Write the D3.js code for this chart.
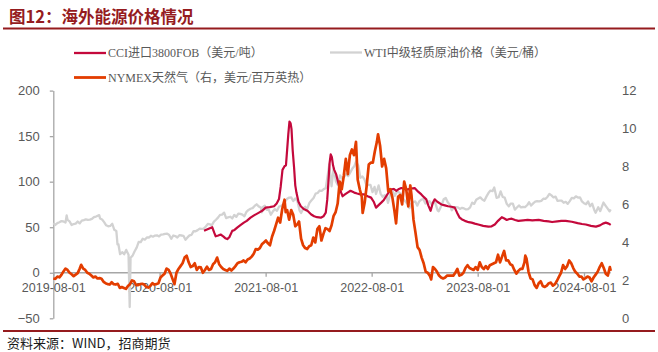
<!DOCTYPE html>
<html><head><meta charset="utf-8">
<script src="https://cdn.jsdelivr.net/npm/d3@7"></script>
<style>body{margin:0;background:#fff}svg{display:block}</style>
</head><body>
<svg id="chart" width="658" height="352"></svg>
<script>
// ---------- data ----------
const titleText = "图12：海外能源价格情况";
const sourceText = "资料来源：WIND，招商期货";
const seriesNames = ["CCI进口3800FOB（美元/吨）", "WTI中级轻质原油价格（美元/桶）", "NYMEX天然气（右，美元/百万英热）"];
const xTickLabels = ["2019-08-01","2020-08-01","2021-08-01","2022-08-01","2023-08-01","2024-08-01"];
const leftTicks = [-50, 0, 50, 100, 150, 200];
const rightTicks = [0, 2, 4, 6, 8, 10, 12];

const cciSeries = [
["2021-01-01",46],["2021-01-15",48],["2021-01-29",50],["2021-02-05",44],["2021-02-10",40],["2021-02-19",41],["2021-02-27",42],
["2021-03-08",40],["2021-03-15",38],["2021-03-22",37],["2021-03-29",39],["2021-04-08",46],["2021-04-16",47],["2021-04-25",49.5],
["2021-05-05",52],["2021-05-18",55],["2021-05-28",57],["2021-06-10",60.5],["2021-06-22",63],["2021-07-09",66],["2021-07-20",68],
["2021-08-01",71.5],["2021-08-15",72],["2021-08-30",73],["2021-09-08",76],["2021-09-16",81],["2021-09-22",95],["2021-09-28",113],
["2021-10-05",117],["2021-10-10",118],["2021-10-14",135],["2021-10-18",152],["2021-10-22",166],["2021-10-26",164],["2021-10-29",158],
["2021-11-02",135],["2021-11-07",115],["2021-11-11",96],["2021-11-15",88],["2021-11-22",78],["2021-11-30",73],["2021-12-10",70],
["2021-12-23",68],["2022-01-05",64],["2022-01-15",62],["2022-01-25",61],["2022-02-07",60.5],["2022-02-16",62],["2022-02-24",66],
["2022-03-01",80],["2022-03-05",99],["2022-03-09",120],["2022-03-13",130],["2022-03-17",127],["2022-03-21",118],["2022-03-25",113],
["2022-04-01",108],["2022-04-11",95],["2022-04-18",88],["2022-04-23",84],["2022-05-01",86],["2022-05-10",88],["2022-05-20",90],
["2022-06-02",88],["2022-06-12",87],["2022-06-23",86],["2022-07-07",86],["2022-07-18",84],["2022-07-30",82.5],["2022-08-08",78],
["2022-08-16",71.5],["2022-08-24",74],["2022-09-03",77],["2022-09-12",80],["2022-09-20",84],["2022-09-30",89],["2022-10-08",91.5],
["2022-10-16",92],["2022-10-25",90],["2022-11-03",92],["2022-11-11",93],["2022-11-22",92],["2022-12-04",91.5],["2022-12-15",92.5],
["2022-12-27",93],["2023-01-08",89],["2023-01-19",86],["2023-01-28",83],["2023-02-05",80.6],["2023-02-12",74],["2023-02-20",68],
["2023-02-27",76],["2023-03-06",80.6],["2023-03-15",78],["2023-03-29",75],["2023-04-10",74],["2023-04-21",73],["2023-05-03",72.5],
["2023-05-14",71.5],["2023-05-22",66],["2023-05-31",60.5],["2023-06-08",58.5],["2023-06-18",57],["2023-07-01",55.5],["2023-07-11",55],
["2023-07-22",54],["2023-08-03",53],["2023-08-20",51.5],["2023-09-07",50.6],["2023-09-18",51],["2023-09-29",53],["2023-10-10",57],
["2023-10-23",61],["2023-11-01",59.5],["2023-11-09",58],["2023-11-18",59],["2023-11-26",59.4],["2023-12-08",58],["2023-12-19",57],
["2024-01-05",57.5],["2024-01-20",58],["2024-02-05",57.5],["2024-02-27",58],["2024-03-15",57],["2024-04-01",56.5],["2024-04-13",55.7],
["2024-05-01",56.5],["2024-05-15",57],["2024-05-30",57],["2024-06-20",56],["2024-07-10",54.5],["2024-07-25",53.5],["2024-08-07",53],
["2024-08-25",51.5],["2024-09-11",50.6],["2024-09-25",52],["2024-10-05",54],["2024-10-15",55],["2024-10-25",54],["2024-11-01",52.5]
];

const wtiSeries = [
["2019-08-01",54.5],["2019-08-08",52.5],["2019-08-15",54.5],["2019-08-22",55.4],["2019-08-29",56.7],["2019-09-05",56.3],["2019-09-12",55.1],
["2019-09-16",62.9],["2019-09-19",58.1],["2019-09-26",56.4],["2019-10-03",52.4],["2019-10-10",53.5],["2019-10-17",53.9],["2019-10-24",56.2],
["2019-10-31",54.2],["2019-11-07",57.2],["2019-11-14",57.8],["2019-11-21",58.6],["2019-11-28",58.1],["2019-12-05",58.4],["2019-12-12",59.2],
["2019-12-19",61.2],["2019-12-26",61.7],["2020-01-06",63.3],["2020-01-09",59.6],["2020-01-16",58.5],["2020-01-23",55.6],["2020-01-30",52.1],
["2020-02-06",51.0],["2020-02-13",51.4],["2020-02-20",53.8],["2020-02-27",47.1],["2020-03-05",45.9],["2020-03-09",31.1],["2020-03-12",31.5],
["2020-03-18",20.4],["2020-03-26",22.6],["2020-04-01",20.3],["2020-04-08",25.1],["2020-04-16",19.9],["2020-04-20",-37.6],["2020-04-23",16.5],
["2020-04-30",18.8],["2020-05-07",23.6],["2020-05-14",27.6],["2020-05-21",33.9],["2020-05-28",33.7],["2020-06-04",37.4],["2020-06-11",36.3],
["2020-06-18",38.8],["2020-06-25",38.7],["2020-07-02",40.6],["2020-07-09",39.6],["2020-07-16",40.8],["2020-07-23",41.1],["2020-07-30",39.9],
["2020-08-06",41.9],["2020-08-13",42.2],["2020-08-20",42.8],["2020-08-27",43.0],["2020-09-03",41.4],["2020-09-10",37.3],["2020-09-17",40.9],
["2020-09-24",40.3],["2020-10-01",38.7],["2020-10-08",41.2],["2020-10-15",40.9],["2020-10-22",40.6],["2020-10-29",36.2],["2020-11-05",38.8],
["2020-11-12",41.1],["2020-11-19",41.7],["2020-11-26",45.7],["2020-12-03",45.6],["2020-12-10",46.8],["2020-12-17",48.4],["2020-12-24",48.2],
["2020-12-31",48.5],["2021-01-07",50.8],["2021-01-14",53.6],["2021-01-21",53.1],["2021-01-28",52.3],["2021-02-04",56.2],["2021-02-11",58.2],
["2021-02-18",60.5],["2021-02-25",63.5],["2021-03-04",63.8],["2021-03-11",66.0],["2021-03-18",60.0],["2021-03-25",60.9],["2021-04-01",61.5],
["2021-04-08",59.6],["2021-04-15",63.5],["2021-04-22",61.4],["2021-04-29",65.0],["2021-05-06",64.7],["2021-05-13",63.8],["2021-05-20",62.0],
["2021-05-27",66.9],["2021-06-03",69.0],["2021-06-10",70.3],["2021-06-17",71.0],["2021-06-24",73.3],["2021-07-01",75.2],["2021-07-08",72.9],
["2021-07-15",71.7],["2021-07-19",66.4],["2021-07-22",71.9],["2021-07-29",73.6],["2021-08-05",69.1],["2021-08-12",69.1],["2021-08-19",63.7],
["2021-08-26",67.4],["2021-09-02",69.9],["2021-09-09",68.1],["2021-09-16",72.6],["2021-09-23",73.3],["2021-09-30",75.0],["2021-10-07",78.3],
["2021-10-14",81.3],["2021-10-21",82.5],["2021-10-28",82.8],["2021-11-04",78.8],["2021-11-11",81.6],["2021-11-18",79.0],["2021-11-26",68.2],
["2021-12-01",65.6],["2021-12-09",70.9],["2021-12-16",72.4],["2021-12-20",68.2],["2021-12-30",76.9],["2022-01-06",79.5],["2022-01-13",82.1],
["2022-01-20",86.9],["2022-01-27",87.6],["2022-02-03",90.3],["2022-02-10",89.9],["2022-02-17",91.8],["2022-02-24",92.8],["2022-03-03",107.7],
["2022-03-08",119.0],["2022-03-16",95.0],["2022-03-23",114.9],["2022-03-31",100.3],["2022-04-07",96.0],["2022-04-14",106.9],["2022-04-21",103.8],
["2022-04-28",105.4],["2022-05-05",108.3],["2022-05-12",106.1],["2022-05-19",109.9],["2022-05-26",114.1],["2022-06-02",116.9],["2022-06-08",122.1],
["2022-06-16",117.6],["2022-06-23",104.3],["2022-06-30",105.8],["2022-07-07",102.7],["2022-07-14",95.8],["2022-07-21",96.4],["2022-07-28",96.4],
["2022-08-04",88.5],["2022-08-11",94.3],["2022-08-16",86.5],["2022-08-25",95.9],["2022-09-01",86.6],["2022-09-08",83.5],["2022-09-15",85.1],
["2022-09-22",83.5],["2022-09-26",76.7],["2022-10-06",88.5],["2022-10-13",89.1],["2022-10-20",84.5],["2022-10-27",89.1],["2022-11-03",88.2],
["2022-11-10",86.5],["2022-11-17",81.6],["2022-11-28",77.2],["2022-12-06",74.3],["2022-12-09",71.0],["2022-12-15",76.1],["2022-12-22",77.5],
["2022-12-29",78.4],["2023-01-05",73.7],["2023-01-12",78.4],["2023-01-19",80.3],["2023-01-26",81.0],["2023-02-02",75.9],["2023-02-09",78.1],
["2023-02-16",78.5],["2023-02-23",75.4],["2023-03-02",78.2],["2023-03-09",75.7],["2023-03-16",68.4],["2023-03-20",67.6],["2023-03-30",74.4],
["2023-04-06",80.7],["2023-04-13",82.2],["2023-04-20",77.4],["2023-04-27",74.8],["2023-05-04",68.6],["2023-05-11",72.0],["2023-05-18",71.9],
["2023-05-25",71.8],["2023-06-01",70.1],["2023-06-08",71.3],["2023-06-15",70.6],["2023-06-22",69.5],["2023-06-29",69.9],["2023-07-06",71.8],
["2023-07-13",77.0],["2023-07-20",75.6],["2023-07-27",80.1],["2023-08-03",81.6],["2023-08-10",82.8],["2023-08-17",80.4],["2023-08-24",79.1],
["2023-08-31",83.6],["2023-09-07",87.5],["2023-09-14",90.2],["2023-09-21",89.6],["2023-09-27",93.7],["2023-10-05",82.3],["2023-10-12",82.9],
["2023-10-19",89.4],["2023-10-26",83.2],["2023-11-02",82.5],["2023-11-09",75.7],["2023-11-16",72.9],["2023-11-23",76.0],["2023-11-30",75.9],
["2023-12-07",69.3],["2023-12-14",71.6],["2023-12-21",73.9],["2023-12-28",71.8],["2024-01-04",72.2],["2024-01-11",72.0],["2024-01-18",74.1],
["2024-01-25",77.4],["2024-02-01",73.8],["2024-02-08",76.2],["2024-02-15",78.0],["2024-02-22",78.6],["2024-02-29",78.3],["2024-03-07",78.9],
["2024-03-14",81.3],["2024-03-21",81.1],["2024-03-28",83.2],["2024-04-04",86.6],["2024-04-11",85.0],["2024-04-18",82.7],["2024-04-25",83.6],
["2024-05-02",78.9],["2024-05-09",79.3],["2024-05-16",79.2],["2024-05-23",76.9],["2024-05-30",77.9],["2024-06-06",75.6],["2024-06-13",78.6],
["2024-06-20",82.2],["2024-06-27",81.7],["2024-07-04",83.9],["2024-07-11",82.6],["2024-07-18",82.8],["2024-07-25",78.3],["2024-08-01",76.3],
["2024-08-08",75.2],["2024-08-15",78.2],["2024-08-22",73.0],["2024-08-29",75.9],["2024-09-05",69.2],["2024-09-10",65.8],["2024-09-19",71.9],
["2024-09-26",67.7],["2024-10-03",73.7],["2024-10-07",77.1],["2024-10-14",73.8],["2024-10-21",70.6],["2024-10-28",67.4],["2024-11-01",69.5]
];

const nymexSeries = [
["2019-08-01",2.10],["2019-08-08",2.08],["2019-08-15",2.20],["2019-08-22",2.16],["2019-08-29",2.29],["2019-09-05",2.47],["2019-09-12",2.62],
["2019-09-19",2.55],["2019-09-26",2.40],["2019-10-03",2.32],["2019-10-10",2.22],["2019-10-17",2.30],["2019-10-24",2.38],["2019-10-31",2.62],
["2019-11-05",2.82],["2019-11-12",2.62],["2019-11-19",2.55],["2019-11-26",2.40],["2019-12-03",2.35],["2019-12-10",2.25],["2019-12-17",2.15],
["2019-12-24",2.20],["2019-12-31",2.10],["2020-01-07",2.12],["2020-01-14",2.08],["2020-01-21",1.92],["2020-01-28",1.85],["2020-02-04",1.80],
["2020-02-11",1.78],["2020-02-18",1.90],["2020-02-25",1.80],["2020-03-03",1.78],["2020-03-10",1.82],["2020-03-17",1.60],["2020-03-24",1.65],
["2020-03-31",1.60],["2020-04-07",1.55],["2020-04-14",1.70],["2020-04-21",1.80],["2020-04-28",2.00],["2020-05-05",1.95],["2020-05-12",1.75],
["2020-05-19",1.75],["2020-05-26",1.80],["2020-06-02",1.82],["2020-06-09",1.78],["2020-06-16",1.65],["2020-06-23",1.62],["2020-06-30",1.70],
["2020-07-07",1.85],["2020-07-14",1.78],["2020-07-21",1.80],["2020-07-28",1.85],["2020-08-04",2.15],["2020-08-11",2.25],["2020-08-18",2.35],
["2020-08-25",2.62],["2020-09-01",2.55],["2020-09-08",2.35],["2020-09-15",2.05],["2020-09-21",1.80],["2020-09-28",2.40],["2020-10-05",2.60],
["2020-10-12",2.75],["2020-10-19",2.90],["2020-10-26",3.20],["2020-11-02",3.30],["2020-11-09",2.95],["2020-11-16",2.70],["2020-11-23",2.75],
["2020-11-30",2.90],["2020-12-07",2.55],["2020-12-14",2.70],["2020-12-21",2.68],["2020-12-28",2.40],["2021-01-04",2.55],["2021-01-11",2.72],
["2021-01-18",2.55],["2021-01-25",2.60],["2021-02-01",2.85],["2021-02-08",2.95],["2021-02-15",3.20],["2021-02-22",2.85],["2021-03-01",2.70],
["2021-03-08",2.60],["2021-03-15",2.55],["2021-03-22",2.50],["2021-03-29",2.62],["2021-04-05",2.52],["2021-04-12",2.62],["2021-04-19",2.75],
["2021-04-26",2.90],["2021-05-03",2.95],["2021-05-10",2.98],["2021-05-17",3.05],["2021-05-24",2.95],["2021-05-31",3.10],["2021-06-07",3.15],
["2021-06-14",3.25],["2021-06-21",3.40],["2021-06-28",3.65],["2021-07-05",3.62],["2021-07-12",3.70],["2021-07-19",3.90],["2021-07-26",4.00],
["2021-08-02",4.10],["2021-08-09",3.95],["2021-08-16",3.85],["2021-08-23",4.30],["2021-08-30",4.60],["2021-09-06",4.95],["2021-09-13",5.30],
["2021-09-20",5.05],["2021-09-27",5.75],["2021-10-05",6.25],["2021-10-09",5.60],["2021-10-14",5.70],["2021-10-21",5.20],["2021-10-28",5.70],
["2021-11-04",5.45],["2021-11-11",4.85],["2021-11-18",4.95],["2021-11-24",5.10],["2021-12-01",4.20],["2021-12-08",3.85],["2021-12-15",3.70],
["2021-12-22",3.65],["2021-12-29",3.80],["2022-01-05",3.85],["2022-01-12",4.25],["2022-01-19",4.00],["2022-01-26",4.70],["2022-02-02",4.85],
["2022-02-09",4.10],["2022-02-16",4.45],["2022-02-23",4.75],["2022-03-02",4.70],["2022-03-09",4.60],["2022-03-16",4.90],["2022-03-23",5.40],
["2022-03-30",5.60],["2022-04-06",6.05],["2022-04-13",7.20],["2022-04-20",6.80],["2022-04-27",7.50],["2022-05-04",8.40],["2022-05-11",7.60],
["2022-05-18",8.60],["2022-05-25",8.90],["2022-06-01",8.60],["2022-06-08",9.30],["2022-06-14",7.30],["2022-06-21",6.80],["2022-06-28",6.40],
["2022-07-01",5.55],["2022-07-08",6.10],["2022-07-15",7.00],["2022-07-22",8.10],["2022-07-29",8.20],["2022-08-05",8.20],["2022-08-12",8.80],
["2022-08-19",9.30],["2022-08-23",9.70],["2022-08-30",9.10],["2022-09-06",8.00],["2022-09-13",8.40],["2022-09-20",7.90],["2022-09-27",6.70],
["2022-10-04",6.80],["2022-10-11",6.40],["2022-10-18",5.70],["2022-10-24",5.00],["2022-10-31",6.40],["2022-11-07",6.50],["2022-11-14",6.00],
["2022-11-21",7.20],["2022-11-28",6.80],["2022-12-05",5.90],["2022-12-12",7.00],["2022-12-16",6.50],["2022-12-23",5.20],["2022-12-30",4.50],
["2023-01-06",3.75],["2023-01-13",3.60],["2023-01-20",3.20],["2023-01-27",2.90],["2023-02-03",2.45],["2023-02-10",2.40],["2023-02-17",2.25],
["2023-02-22",2.05],["2023-02-28",2.70],["2023-03-07",2.60],["2023-03-14",2.45],["2023-03-21",2.25],["2023-03-28",2.15],["2023-04-04",2.10],
["2023-04-11",2.15],["2023-04-18",2.25],["2023-04-25",2.25],["2023-05-02",2.25],["2023-05-09",2.25],["2023-05-16",2.40],["2023-05-23",2.60],
["2023-05-30",2.25],["2023-06-06",2.30],["2023-06-13",2.40],["2023-06-20",2.65],["2023-06-27",2.80],["2023-07-04",2.65],["2023-07-11",2.60],
["2023-07-18",2.55],["2023-07-25",2.70],["2023-08-01",2.55],["2023-08-08",2.95],["2023-08-15",2.70],["2023-08-22",2.60],["2023-08-29",2.75],
["2023-09-05",2.60],["2023-09-12",2.80],["2023-09-19",2.85],["2023-09-26",2.90],["2023-10-03",2.95],["2023-10-10",3.35],["2023-10-17",2.95],
["2023-10-24",3.25],["2023-10-31",3.55],["2023-11-07",3.05],["2023-11-14",3.05],["2023-11-21",2.85],["2023-11-28",2.80],["2023-12-05",2.55],
["2023-12-12",2.35],["2023-12-19",2.50],["2023-12-26",2.60],["2024-01-02",2.60],["2024-01-09",2.95],["2024-01-12",3.30],["2024-01-16",3.15],
["2024-01-23",2.45],["2024-01-30",2.10],["2024-02-06",2.05],["2024-02-13",1.75],["2024-02-20",1.60],["2024-02-27",1.85],["2024-03-05",1.95],
["2024-03-12",1.70],["2024-03-19",1.65],["2024-03-26",1.72],["2024-04-02",1.85],["2024-04-09",1.88],["2024-04-16",1.72],["2024-04-23",1.80],
["2024-04-30",1.98],["2024-05-07",2.20],["2024-05-14",2.40],["2024-05-21",2.80],["2024-05-28",2.60],["2024-06-04",2.75],["2024-06-11",3.05],
["2024-06-18",2.90],["2024-06-25",2.65],["2024-07-02",2.45],["2024-07-09",2.35],["2024-07-16",2.20],["2024-07-23",2.20],["2024-07-30",2.05],
["2024-08-06",2.12],["2024-08-13",2.20],["2024-08-20",2.15],["2024-08-27",1.95],["2024-09-03",2.15],["2024-09-10",2.30],["2024-09-17",2.45],
["2024-09-24",2.70],["2024-10-01",2.90],["2024-10-08",2.65],["2024-10-15",2.35],["2024-10-22",2.25],["2024-10-29",2.70],["2024-11-01",2.50]
];

const seriesColors = ["#C4093C", "#D2D2D2", "#E33D00"];

// ---------- drawing ----------
const svg = d3.select("#chart");
const parse = d3.timeParse("%Y-%m-%d");
const fmt = d3.timeFormat("%Y-%m-%d");
const cjk = "'Noto Sans CJK SC', 'Noto Sans', sans-serif";
const sans = "'Liberation Sans', Arial, sans-serif";
const serif = "'Liberation Serif', 'Noto Sans CJK SC', serif";
const red = "#951B1E";
const axisGray = "#A6A6A6";
const labelGray = "#595959";

svg.append("rect").attr("width", 658).attr("height", 352).attr("fill", "#fff");

// title & frame lines
svg.append("text").attr("x", 9).attr("y", 22.5).text(titleText)
  .attr("font-family", cjk).attr("font-weight", "bold").attr("font-size", 16.5).attr("fill", red);
svg.append("line").attr("x1", 3).attr("x2", 655).attr("y1", 28.5).attr("y2", 28.5).attr("stroke", red).attr("stroke-width", 2);
svg.append("line").attr("x1", 3).attr("x2", 655).attr("y1", 331).attr("y2", 331).attr("stroke", red).attr("stroke-width", 2);
svg.append("text").attr("x", 7).attr("y", 347.5).text(sourceText)
  .attr("font-family", cjk).attr("font-size", 13).attr("fill", "#1a1a1a");

// scales
const x = d3.scaleTime().domain([parse(xTickLabels[0]), parse(xTickLabels[xTickLabels.length - 1])]).range([53.3, 584]);
const yL = d3.scaleLinear().domain([leftTicks[0], leftTicks[leftTicks.length - 1]]).range([318.3, 90.6]);
const yR = d3.scaleLinear().domain([rightTicks[0], rightTicks[rightTicks.length - 1]]).range([318.3, 90.6]);
const xEnd = x(parse("2024-11-01"));

// left axis
const gL = svg.append("g").attr("transform", "translate(53.3,0)")
  .call(d3.axisLeft(yL).tickValues(leftTicks).tickSize(3.5).tickPadding(10).tickSizeOuter(0));
gL.select(".domain").attr("stroke", axisGray).attr("stroke-width", 1.3);
gL.selectAll(".tick line").attr("stroke", axisGray).attr("stroke-width", 1.3);
gL.selectAll(".tick text").attr("font-family", sans).attr("font-size", 13).attr("fill", labelGray);

// right axis (labels only)
const gR = svg.append("g").attr("transform", "translate(612,0)")
  .call(d3.axisRight(yR).tickValues(rightTicks).tickSize(0).tickPadding(10));
gR.select(".domain").remove();
gR.selectAll(".tick text").attr("font-family", sans).attr("font-size", 13).attr("fill", labelGray);

// x axis at zero
const gX = svg.append("g").attr("transform", `translate(0,${yL(0)})`)
  .call(d3.axisBottom(x).tickValues(xTickLabels.map(parse)).tickFormat(fmt).tickSize(4).tickPadding(6).tickSizeOuter(0));
gX.select(".domain").attr("d", `M53.3,0H${xEnd}`).attr("stroke", axisGray).attr("stroke-width", 1.6);
gX.selectAll(".tick line").attr("stroke", axisGray).attr("stroke-width", 1.3);
gX.selectAll(".tick text").attr("font-family", sans).attr("font-size", 12.5).attr("fill", labelGray);

// lines
const lineL = d3.line().x(d => x(parse(d[0]))).y(d => yL(d[1]));
const lineR = d3.line().x(d => x(parse(d[0]))).y(d => yR(d[1]));
svg.append("path").datum(wtiSeries).attr("d", lineL).attr("fill", "none")
  .attr("stroke", seriesColors[1]).attr("stroke-width", 2.3).attr("stroke-linejoin", "round");
svg.append("path").datum(cciSeries).attr("d", lineL).attr("fill", "none")
  .attr("stroke", seriesColors[0]).attr("stroke-width", 2.2).attr("stroke-linejoin", "round");
svg.append("path").datum(nymexSeries).attr("d", lineR).attr("fill", "none")
  .attr("stroke", seriesColors[2]).attr("stroke-width", 2.7).attr("stroke-linejoin", "round");

// legend
const legendPos = [[74, 53], [330, 52.5], [74, 77.5]];
seriesNames.forEach((name, i) => {
  const [lx, ly] = legendPos[i];
  svg.append("line").attr("x1", lx).attr("x2", lx + 32).attr("y1", ly).attr("y2", ly)
    .attr("stroke", seriesColors[i]).attr("stroke-width", i === 2 ? 2.8 : 2.3);
  svg.append("text").attr("x", lx + 34).attr("y", ly).attr("dy", "0.35em").text(name)
    .attr("font-family", serif).attr("font-size", 12).attr("fill", labelGray);
});
</script>
</body></html>
